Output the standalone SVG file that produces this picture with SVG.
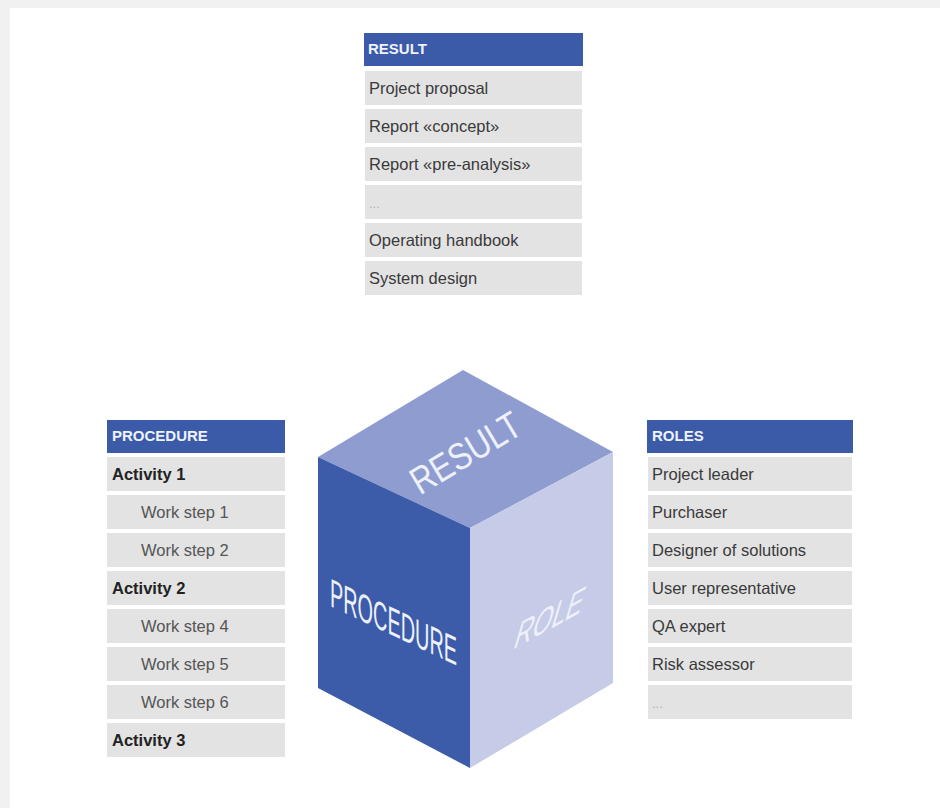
<svg xmlns="http://www.w3.org/2000/svg" width="940" height="808" viewBox="0 0 940 808">
<style>
.hd{fill:#3b5ba9}
.row{fill:#e3e3e3}
.ht{font-family:"Liberation Sans",Arial,sans-serif;font-weight:bold;font-size:15px;fill:#eef2fa}
.rt{font-family:"Liberation Sans",Arial,sans-serif;font-size:16.5px;fill:#3a3a3a}
.act{font-family:"Liberation Sans",Arial,sans-serif;font-size:16.5px;font-weight:bold;fill:#222}
.ws{font-family:"Liberation Sans",Arial,sans-serif;font-size:16.5px;fill:#555}
.el{font-family:"Liberation Sans",Arial,sans-serif;font-size:13px;fill:#b0b0b0}
.ct{font-family:"Liberation Sans",Arial,sans-serif;fill:#eef1fa}
</style>
<rect x="0" y="0" width="940" height="808" fill="#f1f1f1"/>
<rect x="10" y="8" width="930" height="800" fill="#ffffff"/>

<g id="result-table">
  <rect class="hd" x="364" y="33" width="219" height="33"/>
  <text class="ht" x="368" y="54">RESULT</text>
  <rect class="row" x="365" y="71" width="217" height="34"/>
  <text class="rt" x="369" y="94">Project proposal</text>
  <rect class="row" x="365" y="109" width="217" height="34"/>
  <text class="rt" x="369" y="132">Report «concept»</text>
  <rect class="row" x="365" y="147" width="217" height="34"/>
  <text class="rt" x="369" y="170">Report «pre-analysis»</text>
  <rect class="row" x="365" y="185" width="217" height="34"/>
  <text class="el" x="369" y="208">...</text>
  <rect class="row" x="365" y="223" width="217" height="34"/>
  <text class="rt" x="369" y="246">Operating handbook</text>
  <rect class="row" x="365" y="261" width="217" height="34"/>
  <text class="rt" x="369" y="284">System design</text>
</g>

<g id="procedure-table">
  <rect class="hd" x="107" y="420" width="178" height="33"/>
  <text class="ht" x="112" y="441">PROCEDURE</text>
  <rect class="row" x="107" y="457" width="178" height="34"/>
  <text class="act" x="112" y="480">Activity 1</text>
  <rect class="row" x="107" y="495" width="178" height="34"/>
  <text class="ws" x="141" y="518">Work step 1</text>
  <rect class="row" x="107" y="533" width="178" height="34"/>
  <text class="ws" x="141" y="556">Work step 2</text>
  <rect class="row" x="107" y="571" width="178" height="34"/>
  <text class="act" x="112" y="594">Activity 2</text>
  <rect class="row" x="107" y="609" width="178" height="34"/>
  <text class="ws" x="141" y="632">Work step 4</text>
  <rect class="row" x="107" y="647" width="178" height="34"/>
  <text class="ws" x="141" y="670">Work step 5</text>
  <rect class="row" x="107" y="685" width="178" height="34"/>
  <text class="ws" x="141" y="708">Work step 6</text>
  <rect class="row" x="107" y="723" width="178" height="34"/>
  <text class="act" x="112" y="746">Activity 3</text>
</g>

<g id="roles-table">
  <rect class="hd" x="647" y="420" width="206" height="33"/>
  <text class="ht" x="652" y="441">ROLES</text>
  <rect class="row" x="648" y="457" width="204" height="34"/>
  <text class="rt" x="652" y="480">Project leader</text>
  <rect class="row" x="648" y="495" width="204" height="34"/>
  <text class="rt" x="652" y="518">Purchaser</text>
  <rect class="row" x="648" y="533" width="204" height="34"/>
  <text class="rt" x="652" y="556">Designer of solutions</text>
  <rect class="row" x="648" y="571" width="204" height="34"/>
  <text class="rt" x="652" y="594">User representative</text>
  <rect class="row" x="648" y="609" width="204" height="34"/>
  <text class="rt" x="652" y="632">QA expert</text>
  <rect class="row" x="648" y="647" width="204" height="34"/>
  <text class="rt" x="652" y="670">Risk assessor</text>
  <rect class="row" x="648" y="685" width="204" height="34"/>
  <text class="el" x="652" y="708">...</text>
</g>

<g id="cube">
  <polygon points="463,370 613,452 470,528 318,457" fill="#8e9cd0"/>
  <polygon points="318,457 470,528 470,768 318,688" fill="#3c5caa"/>
  <polygon points="470,528 613,452 613,683 470,768" fill="#c6cbe7"/>
  <text class="ct" transform="translate(465,452) rotate(-31)" x="0" y="14" text-anchor="middle" font-size="38" textLength="122" lengthAdjust="spacingAndGlyphs">RESULT</text>
  <text class="ct" transform="matrix(1,0.47,0,1,330,606)" x="0" y="0" font-size="40" textLength="127" lengthAdjust="spacingAndGlyphs">PROCEDURE</text>
  <text class="ct" transform="matrix(1,-0.55,-0.3,1,512,650)" x="0" y="0" font-size="40" textLength="68" lengthAdjust="spacingAndGlyphs">ROLE</text>
</g>
<g id="connectors"/>
</svg>
